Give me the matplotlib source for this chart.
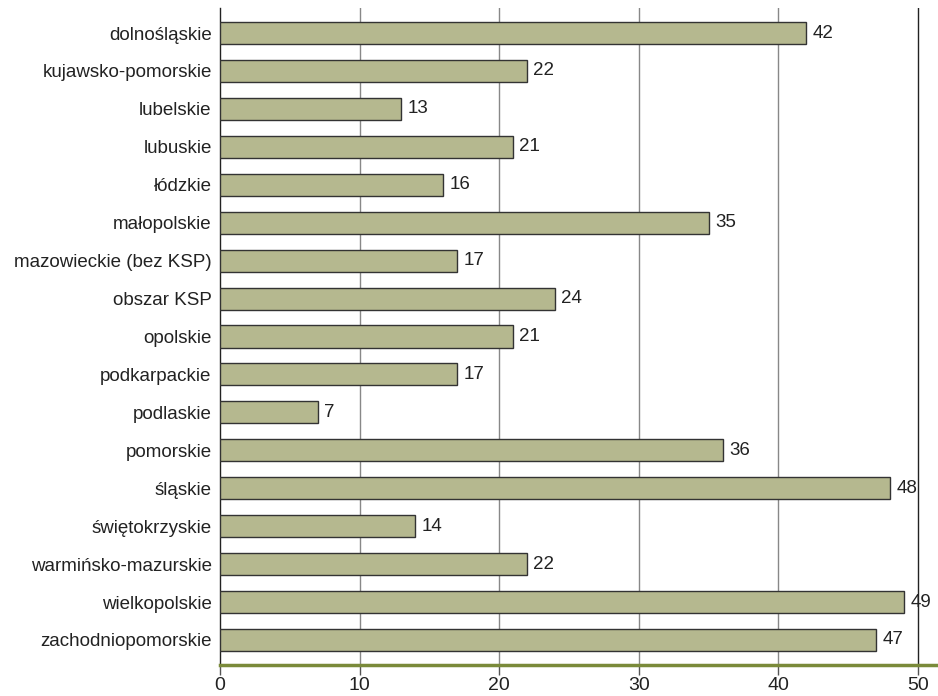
import matplotlib.pyplot as plt
import numpy as np

regions = [
    "dolnośląskie", "kujawsko-pomorskie", "lubelskie", "lubuskie", "łódzkie",
    "małopolskie", "mazowieckie (bez KSP)", "obszar KSP", "opolskie",
    "podkarpackie", "podlaskie", "pomorskie", "śląskie", "świętokrzyskie",
    "warmińsko-mazurskie", "wielkopolskie", "zachodniopomorskie",
]
values = [42, 22, 13, 21, 16, 35, 17, 24, 21, 17, 7, 36, 48, 14, 22, 49, 47]
xticks = [0, 10, 20, 30, 40, 50]

plt.rcParams["font.family"] = ["Liberation Sans", "DejaVu Sans"]

fig = plt.figure(figsize=(9.38, 6.96), dpi=100)
ax = fig.add_axes([220 / 938, 1 - 665 / 696, (937 - 220) / 938, (665 - 8) / 696])

y = np.arange(len(regions))
ax.barh(y, values, height=0.58, color="#b5b88f", edgecolor="#333333", linewidth=1.0, zorder=3)
for yi, v in zip(y, values):
    ax.text(v + 0.45, yi, str(v), va="center", ha="left", fontsize=13.5, color="#222222")

ax.set_xlim(0, 51.36)
ax.set_ylim(len(regions) - 1 + 0.66, -0.66)
ax.set_xticks(xticks)
ax.set_xticklabels([str(t) for t in xticks], fontsize=14, color="#222222")
ax.set_yticks(y)
ax.set_yticklabels(regions, fontsize=13.5, color="#222222")
ax.tick_params(axis="y", length=0, pad=6)
ax.tick_params(axis="x", length=7, width=1, color="#555555", pad=2, direction="out")

for t in xticks[1:-1]:
    ax.axvline(t, color="#888888", linewidth=1.0, zorder=1)
ax.axvline(50, color="#222222", linewidth=1.0, zorder=1)

for s in ["top", "right"]:
    ax.spines[s].set_visible(False)
ax.spines["left"].set_color("#222222")
ax.spines["left"].set_linewidth(1.0)
ax.spines["bottom"].set_color("#7a8a3a")
ax.spines["bottom"].set_linewidth(2.5)

fig.savefig("out.png", dpi=100)
